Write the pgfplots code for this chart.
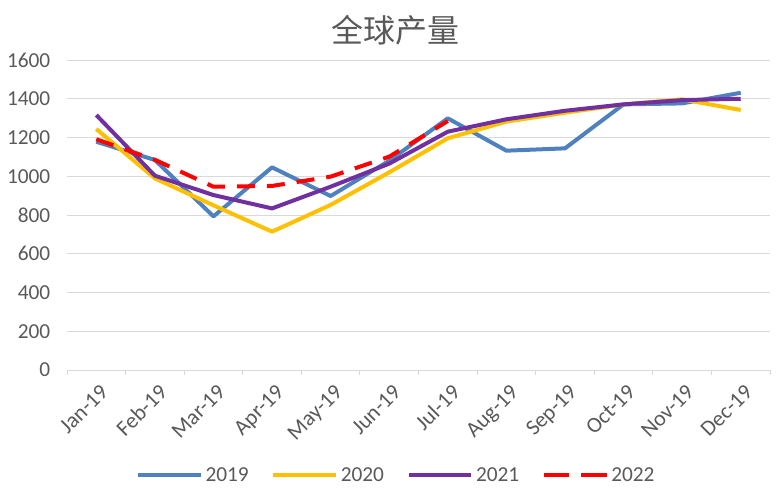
\documentclass[border=0pt]{standalone}
\usepackage{pgfplots}
\pgfplotsset{compat=1.18}
\usepackage{fontspec}
\setmainfont{Carlito}
\newfontfamily\cjk{Noto Sans CJK SC}
\definecolor{c19}{HTML}{4E81BD}
\definecolor{c20}{HTML}{FFC000}
\definecolor{c21}{HTML}{7030A0}
\definecolor{c22}{HTML}{FF0000}
\definecolor{gridgray}{HTML}{D9D9D9}
\definecolor{labelgray}{HTML}{595959}
\pgfplotsset{dashlegend/.style={legend image code/.code={\draw[##1, dash pattern=on 19pt off 9pt] (0pt,0pt) -- (47pt,0pt);}}}
\begin{document}
\begin{tikzpicture}[x=0.75pt,y=0.75pt]
\path[use as bounding box] (0,0) rectangle (784,494);
\begin{axis}[
  at={(50.25pt,93pt)}, anchor=south west,
  scale only axis, width=527.25pt, height=232.5pt,
  xmin=-0.5, xmax=11.5, ymin=0, ymax=1600,
  ytick={0,200,...,1600},
  xtick={0,...,11},
  xticklabels={Jan-19,Feb-19,Mar-19,Apr-19,May-19,Jun-19,Jul-19,Aug-19,Sep-19,Oct-19,Nov-19,Dec-19},
  minor xtick={-0.5,0.5,...,11.5},
  axis x line*=bottom, axis y line*=left,
  y axis line style={draw=none},
  x axis line style={draw=gridgray, line width=0.75pt, -},
  ymajorgrids, grid style={draw=gridgray, line width=0.75pt},
  major x tick style={draw=none}, ytick style={draw=none},
  minor x tick style={draw=gridgray, line width=0.75pt},
  tick align=outside, minor tick length=3.5pt, major tick length=0pt,
  tick label style={text=labelgray, font=\fontsize{16}{18}\selectfont},
  /pgf/number format/assume math mode=true,
  /pgf/number format/1000 sep={},
  yticklabel style={xshift=-9pt},
  xticklabel style={rotate=45, anchor=north east, xshift=-2pt, yshift=-5pt, font=\fontsize{16.5}{18}\selectfont},
  legend style={at={(0.469,-0.339)}, anchor=center, draw=none, fill=none,
    legend columns=4, font=\fontsize{16}{18}\selectfont, text=labelgray,
    /tikz/every even column/.append style={column sep=15pt}},
  legend image code/.code={\draw[#1] (0pt,0pt) -- (47pt,0pt);},
  every axis plot/.append style={line width=3pt, line join=round},
]
\addplot[c19] coordinates {(0,1178) (1,1084) (2,793) (3,1046) (4,898) (5,1080) (6,1299) (7,1132) (8,1144) (9,1371) (10,1376) (11,1431)};
\addlegendentry{2019}
\addplot[c20] coordinates {(0,1244) (1,989) (2,850) (3,714) (4,852) (5,1020) (6,1196) (7,1282) (8,1328) (9,1371) (10,1397) (11,1342)};
\addlegendentry{2020}
\addplot[c21] coordinates {(0,1316) (1,1003) (2,903) (3,834) (4,946) (5,1065) (6,1230) (7,1294) (8,1338) (9,1371) (10,1393) (11,1400)};
\addlegendentry{2021}
\addplot[c22, dash pattern=on 13.5pt off 9pt, dashlegend]
  coordinates {(0,1191) (1,1085) (2,946) (3,950) (4,998) (5,1101) (6,1285)};
\addlegendentry{2022}
\end{axis}
\node[text=labelgray, font=\cjk\fontsize{24}{28}\selectfont] at (395,464) {全球产量};
\end{tikzpicture}
\end{document}
